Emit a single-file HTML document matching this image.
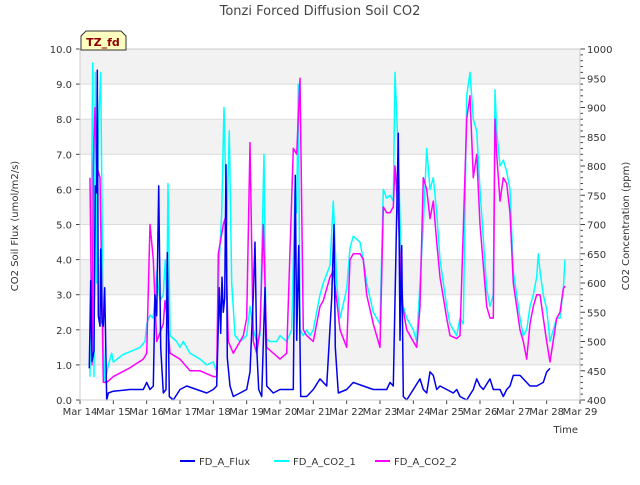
<!DOCTYPE html>
<html><head><meta charset="utf-8"><style>
body{margin:0;background:#fff;font-family:"Liberation Sans",sans-serif}
svg text{font-family:"DejaVu Sans","Liberation Sans",sans-serif}
</style></head><body>
<svg id="c" width="640" height="480" viewBox="0 0 640 480"></svg>
<script>
const fluxT=[0.28,0.32,0.36,0.42,0.46,0.5,0.52,0.55,0.6,0.62,0.66,0.7,0.74,0.8,0.85,1.0,1.5,1.9,2.0,2.1,2.2,2.25,2.3,2.36,2.42,2.5,2.58,2.62,2.68,2.8,3.0,3.2,3.5,3.8,4.0,4.1,4.18,4.22,4.26,4.3,4.34,4.38,4.42,4.5,4.6,4.8,5.0,5.1,5.2,5.25,5.3,5.36,5.45,5.55,5.6,5.8,6.0,6.2,6.4,6.46,6.5,6.56,6.62,6.8,7.0,7.2,7.4,7.55,7.62,7.66,7.75,8.0,8.2,8.5,8.8,9.0,9.2,9.3,9.4,9.55,9.6,9.65,9.7,9.8,10.0,10.2,10.3,10.4,10.5,10.6,10.7,10.8,11.0,11.2,11.3,11.4,11.6,11.8,11.9,12.0,12.1,12.3,12.4,12.6,12.7,12.8,12.9,13.0,13.2,13.3,13.5,13.7,13.9,14.0,14.1];
const fluxV=[0.9,3.4,1.1,1.4,6.1,5.9,9.4,2.4,2.1,4.3,2.2,2.1,3.2,0,0.2,0.25,0.3,0.3,0.5,0.3,0.4,3.0,2.4,6.1,1.5,0.2,0.3,4.2,0.1,0,0.3,0.4,0.3,0.2,0.3,0.4,3.2,1.9,3.5,2.5,2.9,6.7,1.2,0.4,0.1,0.2,0.3,0.8,3.0,4.5,1.5,0.3,0.1,3.2,0.4,0.2,0.3,0.3,0.3,6.4,1.7,4.4,0.1,0.1,0.3,0.6,0.4,2.9,5.0,1.5,0.2,0.3,0.5,0.4,0.3,0.3,0.3,0.5,0.4,7.6,1.7,4.4,0.1,0.0,0.3,0.6,0.3,0.2,0.8,0.7,0.3,0.4,0.3,0.2,0.3,0.1,0.0,0.3,0.6,0.4,0.3,0.6,0.3,0.3,0.1,0.3,0.4,0.7,0.7,0.6,0.4,0.4,0.5,0.8,0.9];
const co21T=[0.3,0.38,0.42,0.46,0.5,0.55,0.62,0.7,0.75,0.85,0.95,1.0,1.3,1.6,1.8,1.95,2.0,2.1,2.2,2.3,2.4,2.5,2.56,2.6,2.64,2.7,2.9,3.0,3.1,3.3,3.6,3.8,4.0,4.1,4.18,4.25,4.32,4.4,4.48,4.55,4.65,4.8,5.0,5.1,5.2,5.3,5.4,5.52,5.58,5.7,5.9,6.0,6.2,6.35,6.45,6.5,6.55,6.6,6.7,6.8,6.9,7.0,7.2,7.3,7.5,7.6,7.7,7.8,8.0,8.1,8.2,8.4,8.5,8.6,8.8,9.0,9.1,9.2,9.3,9.4,9.45,9.55,9.65,9.7,9.8,10.0,10.1,10.3,10.4,10.5,10.6,10.7,10.8,11.0,11.1,11.3,11.4,11.5,11.6,11.7,11.8,11.9,12.0,12.2,12.3,12.4,12.45,12.5,12.6,12.7,12.8,12.9,13.0,13.2,13.3,13.4,13.5,13.6,13.7,13.75,13.8,13.9,14.0,14.1,14.3,14.4,14.5,14.55];
const co21V=[440,976,440,960,600,860,960,500,430,460,480,465,478,485,490,500,530,545,540,620,570,580,640,560,770,510,500,490,500,480,470,460,465,448,640,720,900,700,860,600,510,500,510,560,520,500,510,820,505,500,500,510,500,520,760,720,940,520,510,520,510,520,580,600,630,740,600,540,590,660,680,670,640,600,550,530,760,745,750,740,960,820,600,560,540,520,500,700,830,760,780,720,640,560,530,510,540,530,920,960,880,860,760,590,560,580,930,860,800,810,790,760,620,540,510,520,560,580,610,650,620,580,555,500,540,540,590,640];
const co22T=[0.3,0.36,0.4,0.45,0.5,0.6,0.7,0.8,1.0,1.5,1.9,2.0,2.1,2.2,2.3,2.5,2.55,2.62,2.7,3.0,3.3,3.6,4.0,4.1,4.15,4.3,4.35,4.45,4.6,4.9,5.0,5.1,5.2,5.3,5.4,5.5,5.6,5.8,6.0,6.2,6.4,6.5,6.6,6.7,6.8,7.0,7.2,7.3,7.5,7.6,7.7,7.8,8.0,8.1,8.2,8.4,8.5,8.6,8.8,9.0,9.1,9.2,9.3,9.4,9.45,9.55,9.65,9.8,10.0,10.1,10.2,10.3,10.4,10.5,10.6,10.7,10.8,11.0,11.1,11.3,11.4,11.6,11.7,11.8,11.9,12.0,12.2,12.3,12.4,12.45,12.5,12.6,12.7,12.8,12.9,13.0,13.2,13.3,13.4,13.5,13.6,13.7,13.8,13.9,14.0,14.1,14.3,14.4,14.5,14.55];
const co22V=[780,460,800,900,800,780,430,430,440,455,470,480,700,640,500,530,570,540,480,470,450,450,440,440,650,700,710,500,480,510,540,840,500,480,520,700,490,480,470,480,830,820,950,520,510,500,560,570,610,620,570,520,490,640,650,650,640,580,530,490,730,720,720,730,800,720,570,520,500,490,560,780,760,710,740,670,610,540,510,505,510,880,920,780,820,700,560,540,540,880,820,740,780,770,720,600,520,500,470,530,560,580,580,540,500,465,540,550,590,595];
const yTicks=["0.0","1.0","2.0","3.0","4.0","5.0","6.0","7.0","8.0","9.0","10.0"];
const rTicks=[400,450,500,550,600,650,700,750,800,850,900,950,1000];
const xLabels=["Mar 14","Mar 15","Mar 16","Mar 17","Mar 18","Mar 19","Mar 20","Mar 21","Mar 22","Mar 23","Mar 24","Mar 25","Mar 26","Mar 27","Mar 28","Mar 29"];

const L=80,R=580,T=49,B=400;
const X=t=>L+t*(R-L)/15, Y=v=>B-v*(B-T)/10, YR=p=>B-(p-400)*(B-T)/600;
const svg=document.getElementById('c'),NS="http://www.w3.org/2000/svg";
function mk(tag,a,txt){const e=document.createElementNS(NS,tag);for(const k in a)e.setAttribute(k,a[k]);if(txt!==undefined)e.textContent=txt;svg.appendChild(e);return e;}
let e;
e=mk('rect',{x:L,y:T,width:R-L,height:B-T,fill:'#fff'});


for(let i=1;i<10;i+=2){e=mk('rect',{x:L,y:Y(i+1),width:R-L,height:Y(i)-Y(i+1),fill:'#f2f2f2'});

}
yTicks.forEach((s,i)=>{e=mk('line',{x1:L,x2:R,y1:Y(i),y2:Y(i),stroke:'#dcdcdc','stroke-width':1});


e=mk('line',{x1:L-4,x2:L,y1:Y(i),y2:Y(i),stroke:'#444'});


e=mk('text',{x:L-8,y:Y(i)+4,'text-anchor':'end','font-size':10,fill:'#333'},s);

});
for(let p=400;p<=1000;p+=10){e=mk('line',{x1:R,x2:R+(p%50?3:5),y1:YR(p),y2:YR(p),stroke:'#444'});

}
rTicks.forEach(p=>{e=mk('text',{x:R+7,y:YR(p)+4,'font-size':10,fill:'#333'},String(p));

});
xLabels.forEach((s,i)=>{e=mk('line',{x1:X(i),x2:X(i),y1:B,y2:B+4,stroke:'#444'});


e=mk('text',{x:X(i),y:B+15,'text-anchor':'middle','font-size':10,fill:'#333'},s);

});
function line(T_,V_,f,c,n){const d=T_.map((t,i)=>(i?'L':'M')+X(t).toFixed(1)+','+f(V_[i]).toFixed(1)).join('');
const p=mk('path',{d:d,fill:'none',stroke:c,'stroke-width':1.5,'stroke-linejoin':'round'});

}
line(co21T,co21V,YR,'#00ffff','series-co2-1');
line(co22T,co22V,YR,'#ff00ff','series-co2-2');
line(fluxT,fluxV,Y,'#0000ee','series-flux');
e=mk('rect',{x:L,y:T,width:R-L,height:B-T,fill:'none',stroke:'#ccc'});


e=mk('text',{x:320,y:15,'text-anchor':'middle','font-size':13,fill:'#444'},'Tonzi Forced Diffusion Soil CO2');


e=mk('text',{x:18,y:226,'text-anchor':'middle','font-size':10,fill:'#333',transform:'rotate(-90 18 226)'},'CO2 Soil Flux (umol/m2/s)');


e=mk('text',{x:629,y:226,'text-anchor':'middle','font-size':10,fill:'#333',transform:'rotate(-90 629 226)'},'CO2 Concentration (ppm)');


e=mk('text',{x:578,y:433,'text-anchor':'end','font-size':10,fill:'#333'},'Time');


e=mk('path',{d:'M81,50 L81,36 L86,31 L121,31 L126,36 L126,50 Z',fill:'#ffffc0',stroke:'#333'});


e=mk('text',{x:103,y:46,'text-anchor':'middle','font-size':11,'font-weight':'bold',fill:'#8b0000'},'TZ_fd');


[['FD_A_Flux','#0000ee',180],['FD_A_CO2_1','#00ffff',274],['FD_A_CO2_2','#ff00ff',375]].forEach(a=>{
e=mk('line',{x1:a[2],x2:a[2]+15,y1:461,y2:461,stroke:a[1],'stroke-width':2});


e=mk('text',{x:a[2]+19,y:465,'font-size':10,fill:'#333'},a[0]);

});
</script>
</body></html>
